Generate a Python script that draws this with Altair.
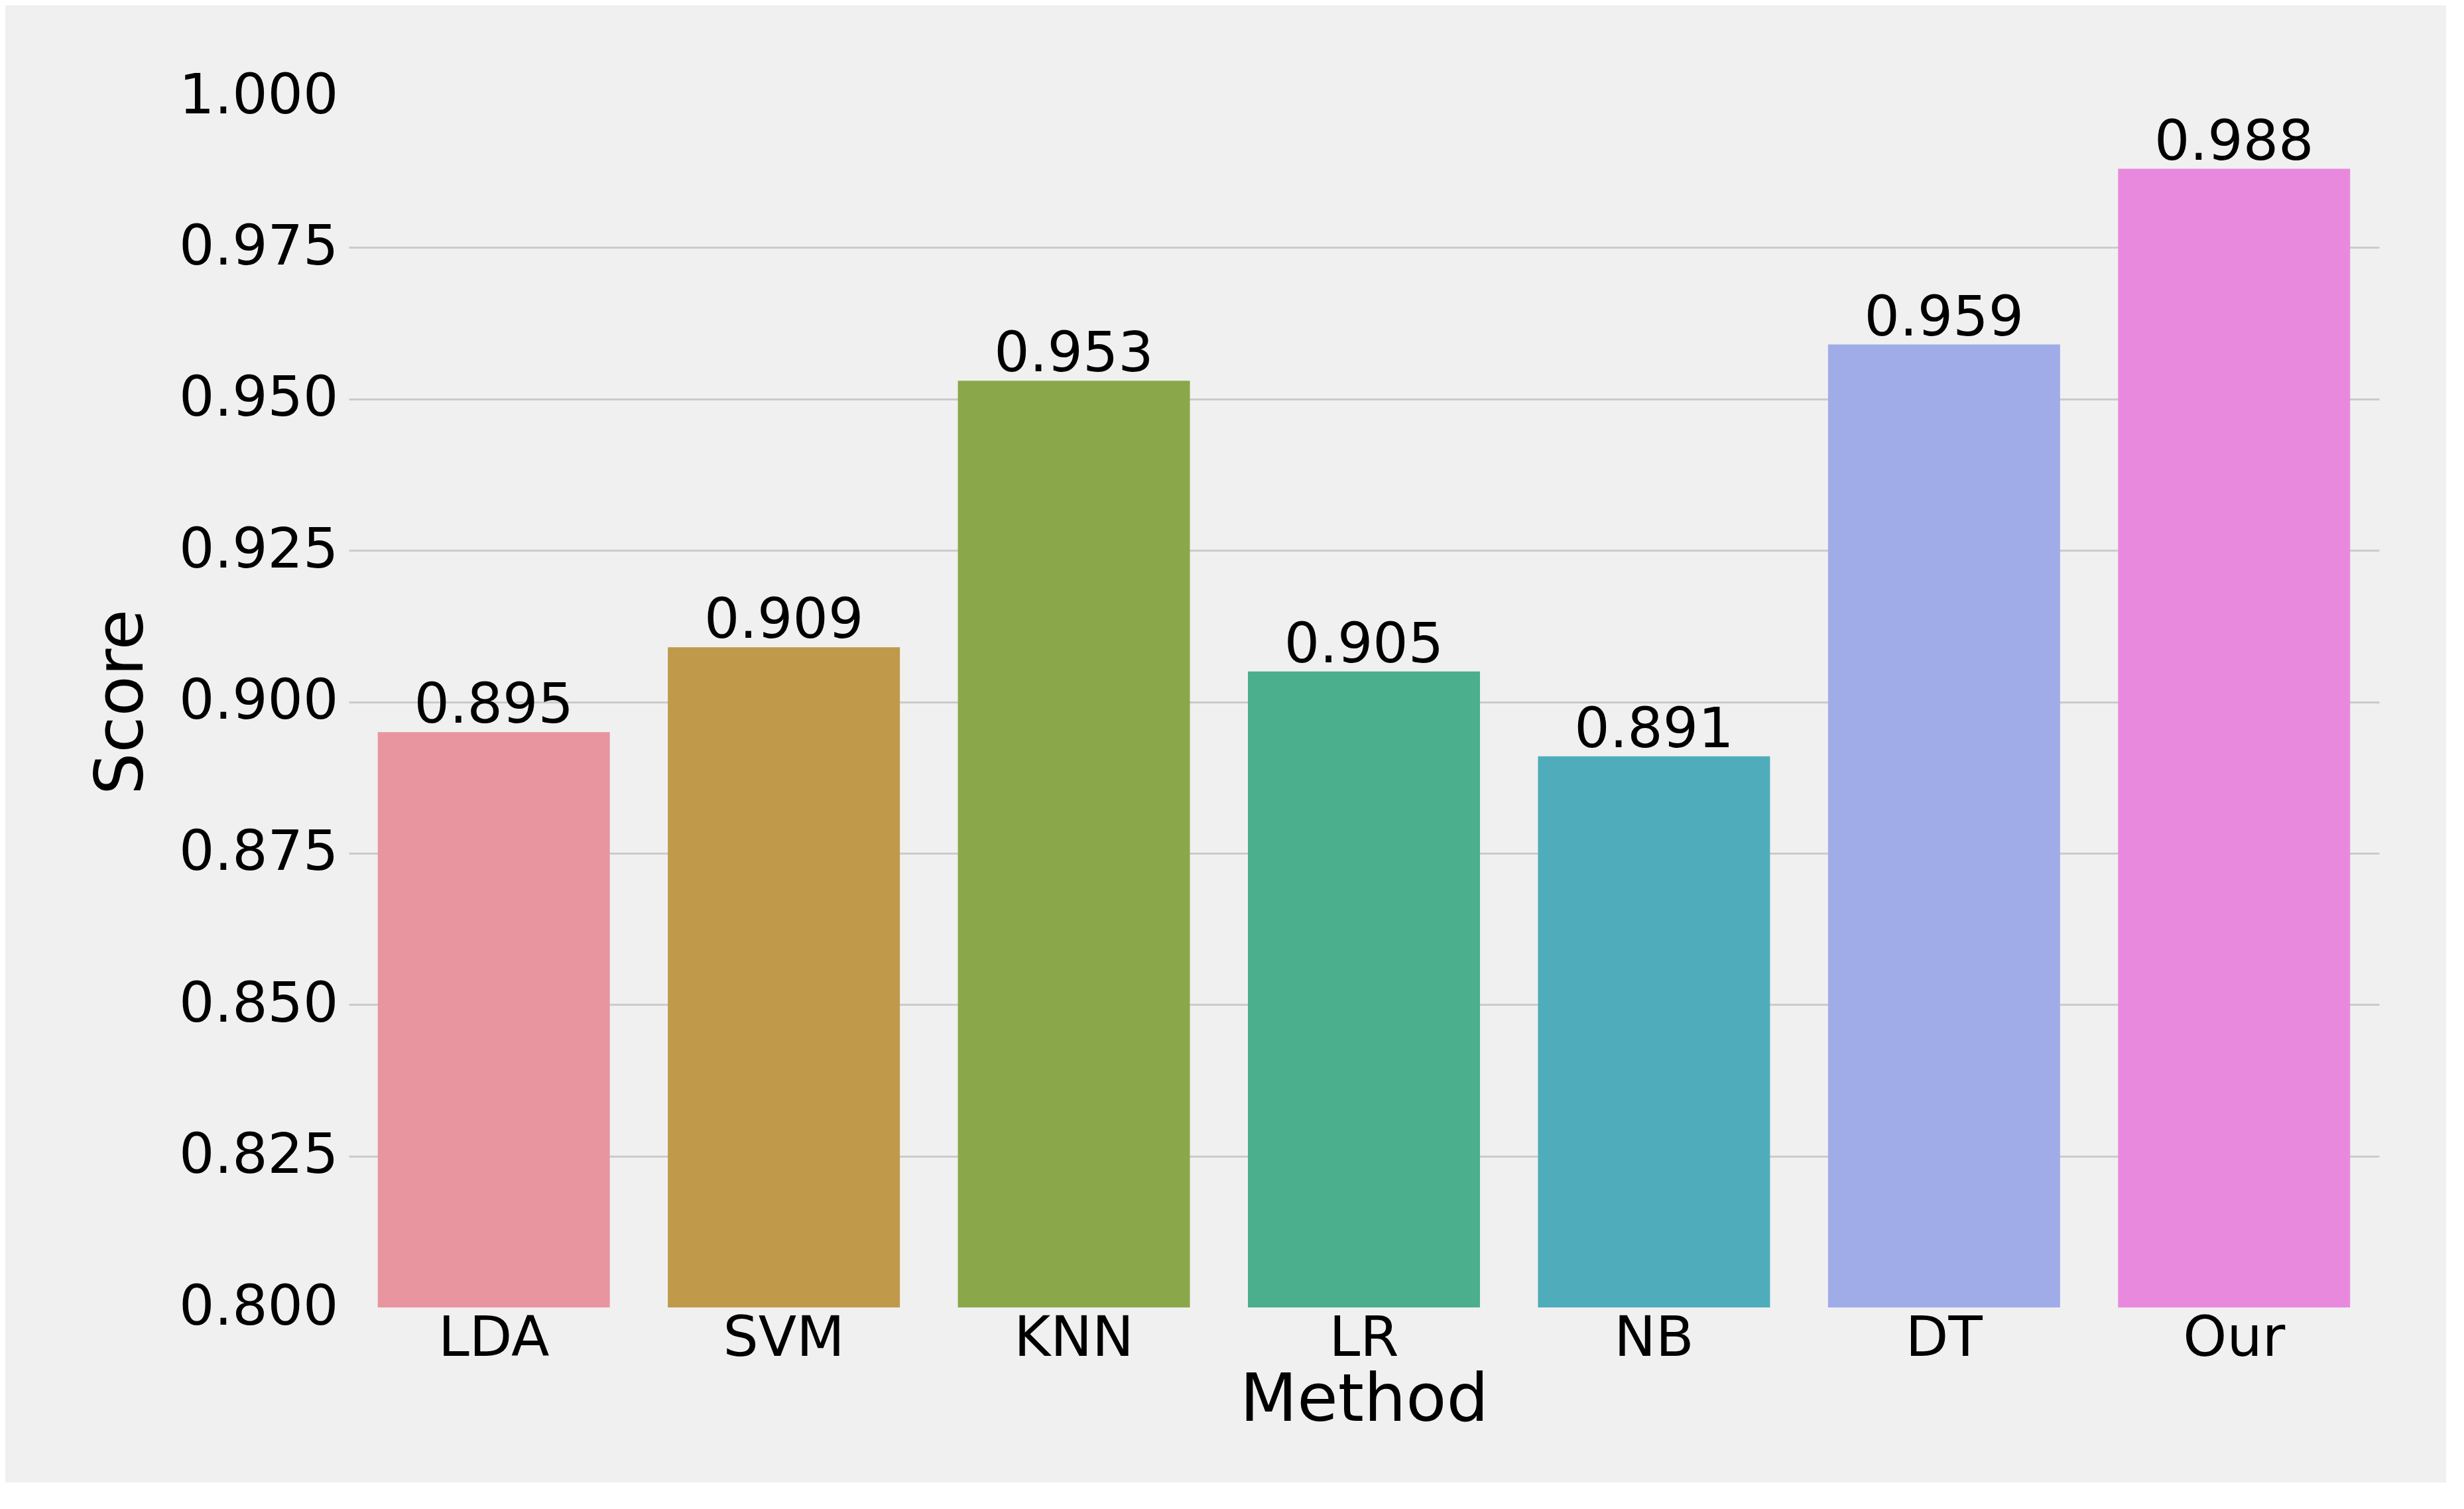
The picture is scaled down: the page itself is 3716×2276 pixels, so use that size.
import altair as alt
import pandas as pd

methods = ["LDA", "SVM", "KNN", "LR", "NB", "DT", "Our"]
scores = [0.895, 0.909, 0.953, 0.905, 0.891, 0.959, 0.988]
colors = ["#E9959F", "#C0994A", "#8AA84A", "#4BAE8D", "#4FACBA", "#A0ACE8", "#E889DE"]
y_ticks = [0.800, 0.825, 0.850, 0.875, 0.900, 0.925, 0.950, 0.975, 1.000]
y_min, y_max = 0.8, 1.0

df = pd.DataFrame({"Method": methods, "Score": scores})

FONT = "DejaVu Sans"
TICK_FS = 84
TITLE_FS = 100
W, H = 3062, 1827

x_enc = alt.X(
    "Method:N",
    sort=methods,
    scale=alt.Scale(paddingInner=0.2, paddingOuter=0.1),
    axis=alt.Axis(
        title="Method",
        labelAngle=0,
        ticks=False,
        tickSize=0,
        domain=False,
        grid=False,
        labelFont=FONT,
        labelFontSize=TICK_FS,
        labelColor="#000000",
        labelBaseline="alphabetic",
        labelPadding=72,
        labelLimit=0,
        titleFont=FONT,
        titleFontSize=TITLE_FS,
        titleFontWeight="normal",
        titleColor="#000000",
        titleBaseline="alphabetic",
        titleAlign="center",
        titleX=W / 2,
        titleY=170,
    ),
)

y_enc = alt.Y(
    "Score:Q",
    scale=alt.Scale(domain=[y_min, y_max], zero=False, nice=False, clamp=True),
    axis=alt.Axis(
        title="Score",
        values=y_ticks,
        format=".3f",
        ticks=False,
        tickSize=0,
        domain=False,
        grid=True,
        gridColor={
            "condition": {"test": "datum.value <= 0.8001 || datum.value >= 0.9999", "value": "transparent"},
            "value": "#cbcbcb",
        },
        gridWidth=3,
        labelFont=FONT,
        labelFontSize=TICK_FS,
        labelColor="#000000",
        labelPadding=16,
        labelLimit=0,
        titleFont=FONT,
        titleFontSize=TITLE_FS,
        titleFontWeight="normal",
        titleColor="#000000",
        titleAngle=270,
        titleBaseline="alphabetic",
        titleAlign="center",
        titleX=-312,
        titleY=H / 2,
    ),
)

bars = alt.Chart(df).mark_bar().encode(
    x=x_enc,
    y=y_enc,
    y2=alt.datum(y_min),
    color=alt.Color("Method:N", sort=methods,
                    scale=alt.Scale(domain=methods, range=colors), legend=None),
)

labels = alt.Chart(df).mark_text(
    baseline="alphabetic", align="center", dy=-14,
    font=FONT, fontSize=TICK_FS, color="#000000",
).encode(
    x=alt.X("Method:N", sort=methods),
    y=alt.Y("Score:Q"),
    text=alt.Text("Score:Q", format=".3f"),
)

chart = (
    alt.layer(bars, labels)
    .properties(
        width=W,
        height=H,
        background="#f0f0f0",
        padding={"left": 518, "top": 137, "right": 101, "bottom": 264},
        autosize=alt.AutoSizeParams(type="none"),
    )
    .configure_view(stroke=None, fill=None)
)

chart.save("out.html", embed_options={"renderer": "svg", "actions": False})
